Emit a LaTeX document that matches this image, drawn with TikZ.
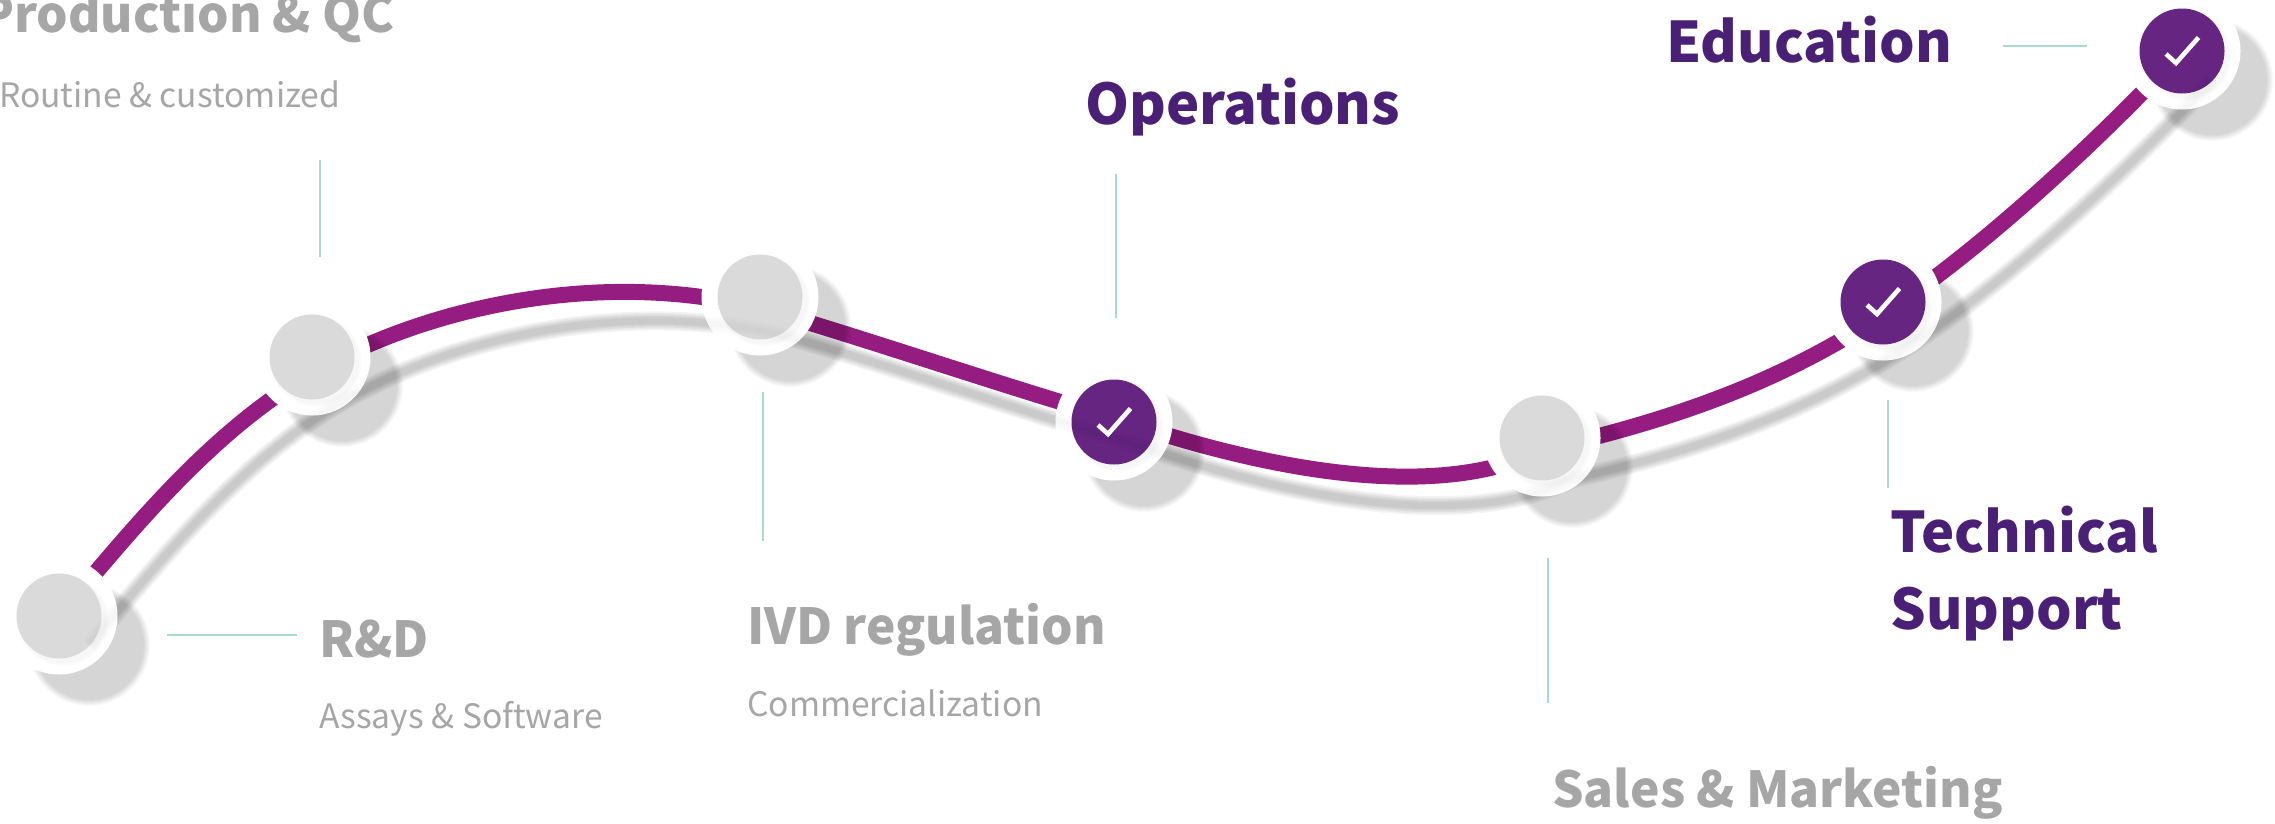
\documentclass[tikz,border=0pt]{standalone}
\usepackage{fontspec}
\setmainfont{Noto Sans CJK SC}
\usetikzlibrary{calc}
\definecolor{pline}{HTML}{951C80}
\definecolor{pnode}{HTML}{652581}
\definecolor{ptext}{HTML}{4A2076}
\definecolor{gtext}{HTML}{A6A6A6}
\definecolor{gnode}{HTML}{DADADA}
\definecolor{tick}{HTML}{A8DCC8}
\pgfdeclarelayer{bg}\pgfdeclarelayer{shad}\pgfdeclarelayer{wire}
\pgfsetlayers{bg,wire,shad,main}
\tikzset{
 x=1pt,y=-1pt,
 ring/.style={circle,fill=white,minimum size=117pt,inner sep=0pt,outer sep=0pt},
 disc/.style={circle,minimum size=85pt,inner sep=0pt,fill=gnode},
 done/.style={disc,fill=pnode},
 tickline/.style={draw=tick,line width=2pt},
 headg/.style={font=\bfseries\fontsize{49.6}{56}\selectfont,inner sep=0pt,anchor=base west,text=gtext},
 headp/.style={font=\bfseries\fontsize{56}{62}\selectfont,inner sep=0pt,anchor=base west,text=ptext},
 subg/.style={font=\fontsize{33.6}{38}\selectfont,inner sep=0pt,anchor=base west,text=gtext},
}
% #1 is the prefix of the end points: p for the line, s for its shadow
\newcommand{\wirepath}[1]{(#11) .. controls (130,532) and (210,432) .. (#12)
 .. controls (420,310) and (595,267) .. (#13)
 .. controls (870,340) and (1000,385) .. (#14)
 .. controls (1250,465) and (1430,505) .. (#15)
 .. controls (1650,425) and (1770,390) .. (#16)
 .. controls (1970,258) and (2090,150) .. (#17)}
\begin{document}
\begin{tikzpicture}
\useasboundingbox (0,0) rectangle (2275,823);
\begin{pgfonlayer}{bg}\fill[white] (0,0) rectangle (2275,823);\end{pgfonlayer}
\node[ring] (n1) at (59,616) {};
\node[ring] (n2) at (312,357) {};
\node[ring] (n3) at (760,297) {};
\node[ring] (n4) at (1114,422) {};
\node[ring] (n5) at (1542,438) {};
\node[ring] (n6) at (1883,302) {};
\node[ring] (n7) at (2182,51) {};
\coordinate (p1) at (59,616);
\coordinate (p2) at (312,373);
\coordinate (p3) at (760,308);
\coordinate (p4) at (1114,418);
\coordinate (p5) at (1542,450);
\coordinate (p6) at (1883,314);
\coordinate (p7) at (2182,51);
\foreach \i in {1,...,7}{\coordinate (s\i) at ($(p\i)+(30,29)$);}
% soft shadow each disc casts on its ring
\foreach \k in {n1,n2,n3,n4,n5,n6,n7}{
 \foreach \r in {46,45,44,43}{\fill[black,opacity=.008] ($(\k)+(4,4)$) circle[radius=\r];}}
\node[disc] (d1) at (n1) {};
\node[disc] (d2) at (n2) {};
\node[disc] (d3) at (n3) {};
\node[done] (d4) at (n4) {};
\node[disc] (d5) at (n5) {};
\node[done] (d6) at (n6) {};
\node[done] (d7) at (n7) {};
% faint trace of the line's shadow across each node
\foreach \k in {n1,n2,n3,n4,n5,n6,n7}{
 \begin{scope}
 \clip (\k) circle[radius=58];
 \begin{scope}[shift={(30,29)}]
 \foreach \w in {16,11,6}{\draw[black,opacity=.012,line width=\w pt] \wirepath{s};}
 \end{scope}
 \end{scope}}
\foreach \k in {d4,d6,d7}{
 \draw[white,line width=4.6pt,miter limit=10] ($(\k)+(-16,3)$) -- ($(\k)+(-6,12)$) -- ($(\k)+(16.5,-13.5)$);}
\begin{pgfonlayer}{shad}
 \begin{scope}[shift={(30,29)}]
 \foreach \w in {19,16,13,10,7}{
  \draw[black,opacity=.042,line width=\w pt] \wirepath{s};}
 \end{scope}
 \foreach \k in {n1,n2,n3,n4,n5,n6,n7}{
  \foreach \r in {61,60,59,58,57,56,55}{\fill[black,opacity=.024] ($(\k)+(30,29)$) circle[radius=\r];}}
\end{pgfonlayer}
\begin{pgfonlayer}{wire}
 \draw[pline,line width=16pt] \wirepath{p};
\end{pgfonlayer}
\node[headg] (t1) at (319,657) {R\&D};
\node[subg] (s1t) at (319,728) {Assays \& Software};
\node[headg] (t2) at (-20,32) {Production \& QC};
\node[subg] (s2t) at (-1,107) {Routine \& customized};
\node[headg] (t3) at (747,644) {IVD regulation};
\node[subg] (s3t) at (747,716) {Commercialization};
\node[headp] (t4) at (1085,124) {Operations};
\node[headg] (t5) at (1552,807) {Sales \& Marketing};
\node[headp] (t6) at (1890,552) {Technical};
\node[headp] (t6b) at (1890,629) {Support};
\node[headp] (t7) at (1666,62) {Education};
\coordinate (a1) at (167,635); \coordinate (b1) at (297,635);
\coordinate (a2) at (320,160); \coordinate (b2) at (320,257);
\coordinate (a3) at (763,392); \coordinate (b3) at (763,541);
\coordinate (a4) at (1116,174); \coordinate (b4) at (1116,318);
\coordinate (a5) at (1548,558); \coordinate (b5) at (1548,703);
\coordinate (a6) at (1888,400); \coordinate (b6) at (1888,488);
\coordinate (a7) at (2003,46); \coordinate (b7) at (2087,46);
\foreach \i in {1,...,7}{\draw[tickline] (a\i) -- (b\i);}
\end{tikzpicture}
\end{document}
